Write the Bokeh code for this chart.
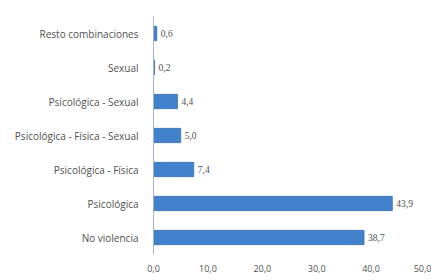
from bokeh.plotting import figure
from bokeh.models import ColumnDataSource, FactorRange, Range1d, FixedTicker, LabelSet
from bokeh.embed import file_html
from bokeh.resources import INLINE

categories = ["No violencia", "Psicológica", "Psicológica - Física",
              "Psicológica - Física - Sexual", "Psicológica - Sexual",
              "Sexual", "Resto combinaciones"]
values = [38.7, 43.9, 7.4, 5.0, 4.4, 0.2, 0.6]
value_labels = ["38,7", "43,9", "7,4", "5,0", "4,4", "0,2", "0,6"]
x_ticks = [0, 10, 20, 30, 40, 50]
x_tick_labels = ["0,0", "10,0", "20,0", "30,0", "40,0", "50,0"]

src = ColumnDataSource(dict(cat=categories, val=values, lab=value_labels))

p = figure(width=431, height=280, output_backend="svg", toolbar_location=None,
           y_range=FactorRange(factors=categories), x_range=Range1d(0, 50),
           min_border_left=153, min_border_right=6, min_border_top=16,
           min_border_bottom=26)
p.outline_line_color = None
p.xgrid.grid_line_color = None
p.ygrid.grid_line_color = None
p.background_fill_color = "white"

p.hbar(y="cat", right="val", left=0, height=0.42, source=src,
       fill_color="#4281CC", line_color="#3A6FB0", line_width=0.8)

font = "Open Sans"
labels = LabelSet(x="val", y="cat", text="lab", source=src, x_offset=4,
                  text_align="left", text_baseline="middle",
                  text_font_size="9.5px", text_color="#505050",
                  text_font=font)
p.add_layout(labels)

p.yaxis.axis_line_color = "#A6B4C8"
p.yaxis.major_tick_line_color = None
p.yaxis.minor_tick_line_color = None
p.yaxis.major_label_text_font = font
p.yaxis.major_label_text_font_size = "10px"
p.yaxis.major_label_text_color = "#505050"
p.yaxis.major_label_standoff = 9

p.xaxis.axis_line_color = None
p.xaxis.major_tick_line_color = None
p.xaxis.minor_tick_line_color = None
p.xaxis.ticker = FixedTicker(ticks=x_ticks)
p.xaxis.major_label_overrides = {t: l for t, l in zip(x_ticks, x_tick_labels)}
p.xaxis.major_label_text_font = font
p.xaxis.major_label_text_font_size = "9px"
p.xaxis.major_label_text_color = "#505050"
p.xaxis.major_label_standoff = 4

open("out.html", "w").write(file_html(p, INLINE))
